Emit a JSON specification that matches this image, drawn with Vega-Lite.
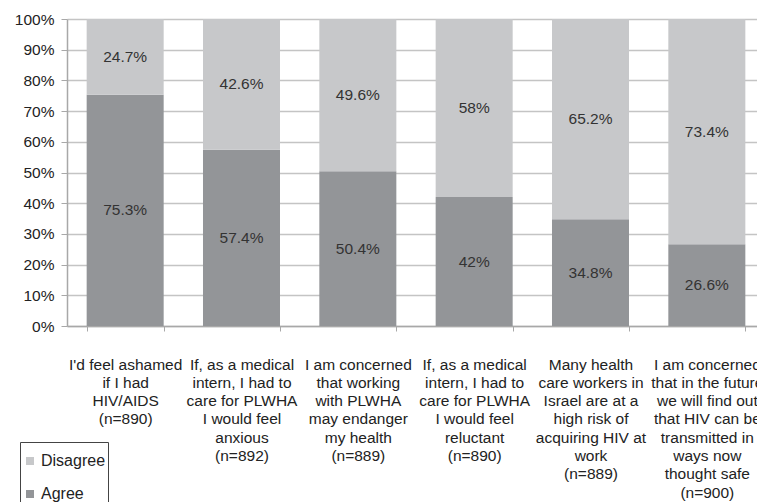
{
  "$schema": "https://vega.github.io/schema/vega-lite/v6.json",
  "autosize": {"type": "none"},
  "width": 690,
  "height": 307,
  "padding": {"left": 67, "top": 19, "right": 0, "bottom": 176},
  "background": "white",
  "config": {
    "font": "Liberation Sans",
    "view": {"stroke": null},
    "axisY": {
      "title": null,
      "values": [0, 10, 20, 30, 40, 50, 60, 70, 80, 90, 100],
      "labelExpr": "datum.value + '%'",
      "labelFontSize": 15.5,
      "labelColor": "#222222",
      "labelPadding": 7,
      "labelOverlap": false,
      "labelFlush": false,
      "tickSize": 6,
      "tickColor": "#a8a8a8",
      "domainColor": "#a8a8a8",
      "domainWidth": 1.5,
      "grid": true,
      "gridColor": "#c4c4c4",
      "gridWidth": 1.5
    }
  },
  "data": {
    "values": [
      {"q": "I'd feel ashamed|if I had|HIV/AIDS|(n=890)", "response": "Agree", "pct": 75.3},
      {"q": "I'd feel ashamed|if I had|HIV/AIDS|(n=890)", "response": "Disagree", "pct": 24.7},
      {"q": "If, as a medical|intern, I had to|care for PLWHA|I would feel|anxious|(n=892)", "response": "Agree", "pct": 57.4},
      {"q": "If, as a medical|intern, I had to|care for PLWHA|I would feel|anxious|(n=892)", "response": "Disagree", "pct": 42.6},
      {"q": "I am concerned|that working|with PLWHA|may endanger|my health|(n=889)", "response": "Agree", "pct": 50.4},
      {"q": "I am concerned|that working|with PLWHA|may endanger|my health|(n=889)", "response": "Disagree", "pct": 49.6},
      {"q": "If, as a medical|intern, I had to|care for PLWHA|I would feel|reluctant|(n=890)", "response": "Agree", "pct": 42},
      {"q": "If, as a medical|intern, I had to|care for PLWHA|I would feel|reluctant|(n=890)", "response": "Disagree", "pct": 58},
      {"q": "Many health|care workers in|Israel are at a|high risk of|acquiring HIV at|work|(n=889)", "response": "Agree", "pct": 34.8},
      {"q": "Many health|care workers in|Israel are at a|high risk of|acquiring HIV at|work|(n=889)", "response": "Disagree", "pct": 65.2},
      {"q": "I am concerned|that in the future|we will find out|that HIV can be|transmitted in|ways now|thought safe|(n=900)", "response": "Agree", "pct": 26.6},
      {"q": "I am concerned|that in the future|we will find out|that HIV can be|transmitted in|ways now|thought safe|(n=900)", "response": "Disagree", "pct": 73.4}
    ]
  },
  "encoding": {
    "x": {
      "field": "q",
      "type": "nominal",
      "sort": null,
      "scale": {"range": [0, 698], "paddingInner": 0.338, "paddingOuter": 0.169},
      "axis": {
        "title": null,
        "labelAngle": 0,
        "labelExpr": "split(datum.label, '|')",
        "labelFontSize": 15.5,
        "labelLineHeight": 18.3,
        "labelColor": "#222222",
        "labelPadding": 26,
        "labelOverlap": false,
        "labelBound": false,
        "labelFlush": false,
        "labelLimit": 300,
        "tickBand": "extent",
        "tickSize": 5,
        "tickColor": "#a8a8a8",
        "domainColor": "#a8a8a8",
        "domainWidth": 1.5
      }
    }
  },
  "layer": [
    {
      "mark": {"type": "bar"},
      "encoding": {
        "y": {
          "field": "pct",
          "type": "quantitative",
          "stack": "zero",
          "scale": {"domain": [0, 100], "nice": false}
        },
        "color": {
          "field": "response",
          "type": "nominal",
          "scale": {"domain": ["Disagree", "Agree"], "range": ["#c7c8ca", "#939598"]},
          "legend": {
            "orient": "none",
            "legendX": -47,
            "legendY": 423,
            "title": " ",
            "titleFontSize": 3,
            "titlePadding": 6,
            "padding": 2,
            "strokeColor": "#444444",
            "symbolType": "square",
            "symbolSize": 64,
            "symbolStrokeWidth": 0,
            "labelFontSize": 16,
            "labelColor": "#222222",
            "labelOffset": 3,
            "rowPadding": 17
          }
        },
        "order": {"field": "response", "sort": "ascending"}
      }
    },
    {
      "transform": [
        {"stack": "pct", "groupby": ["q"], "sort": [{"field": "response", "order": "ascending"}], "as": ["y0", "y1"]},
        {"calculate": "(datum.y0 + datum.y1) / 2", "as": "mid"},
        {"calculate": "format(datum.pct, '.1~f') + '%'", "as": "label"}
      ],
      "mark": {"type": "text", "fontSize": 15.5, "color": "#333333", "baseline": "middle"},
      "encoding": {
        "y": {"field": "mid", "type": "quantitative"},
        "text": {"field": "label"}
      }
    }
  ]
}
